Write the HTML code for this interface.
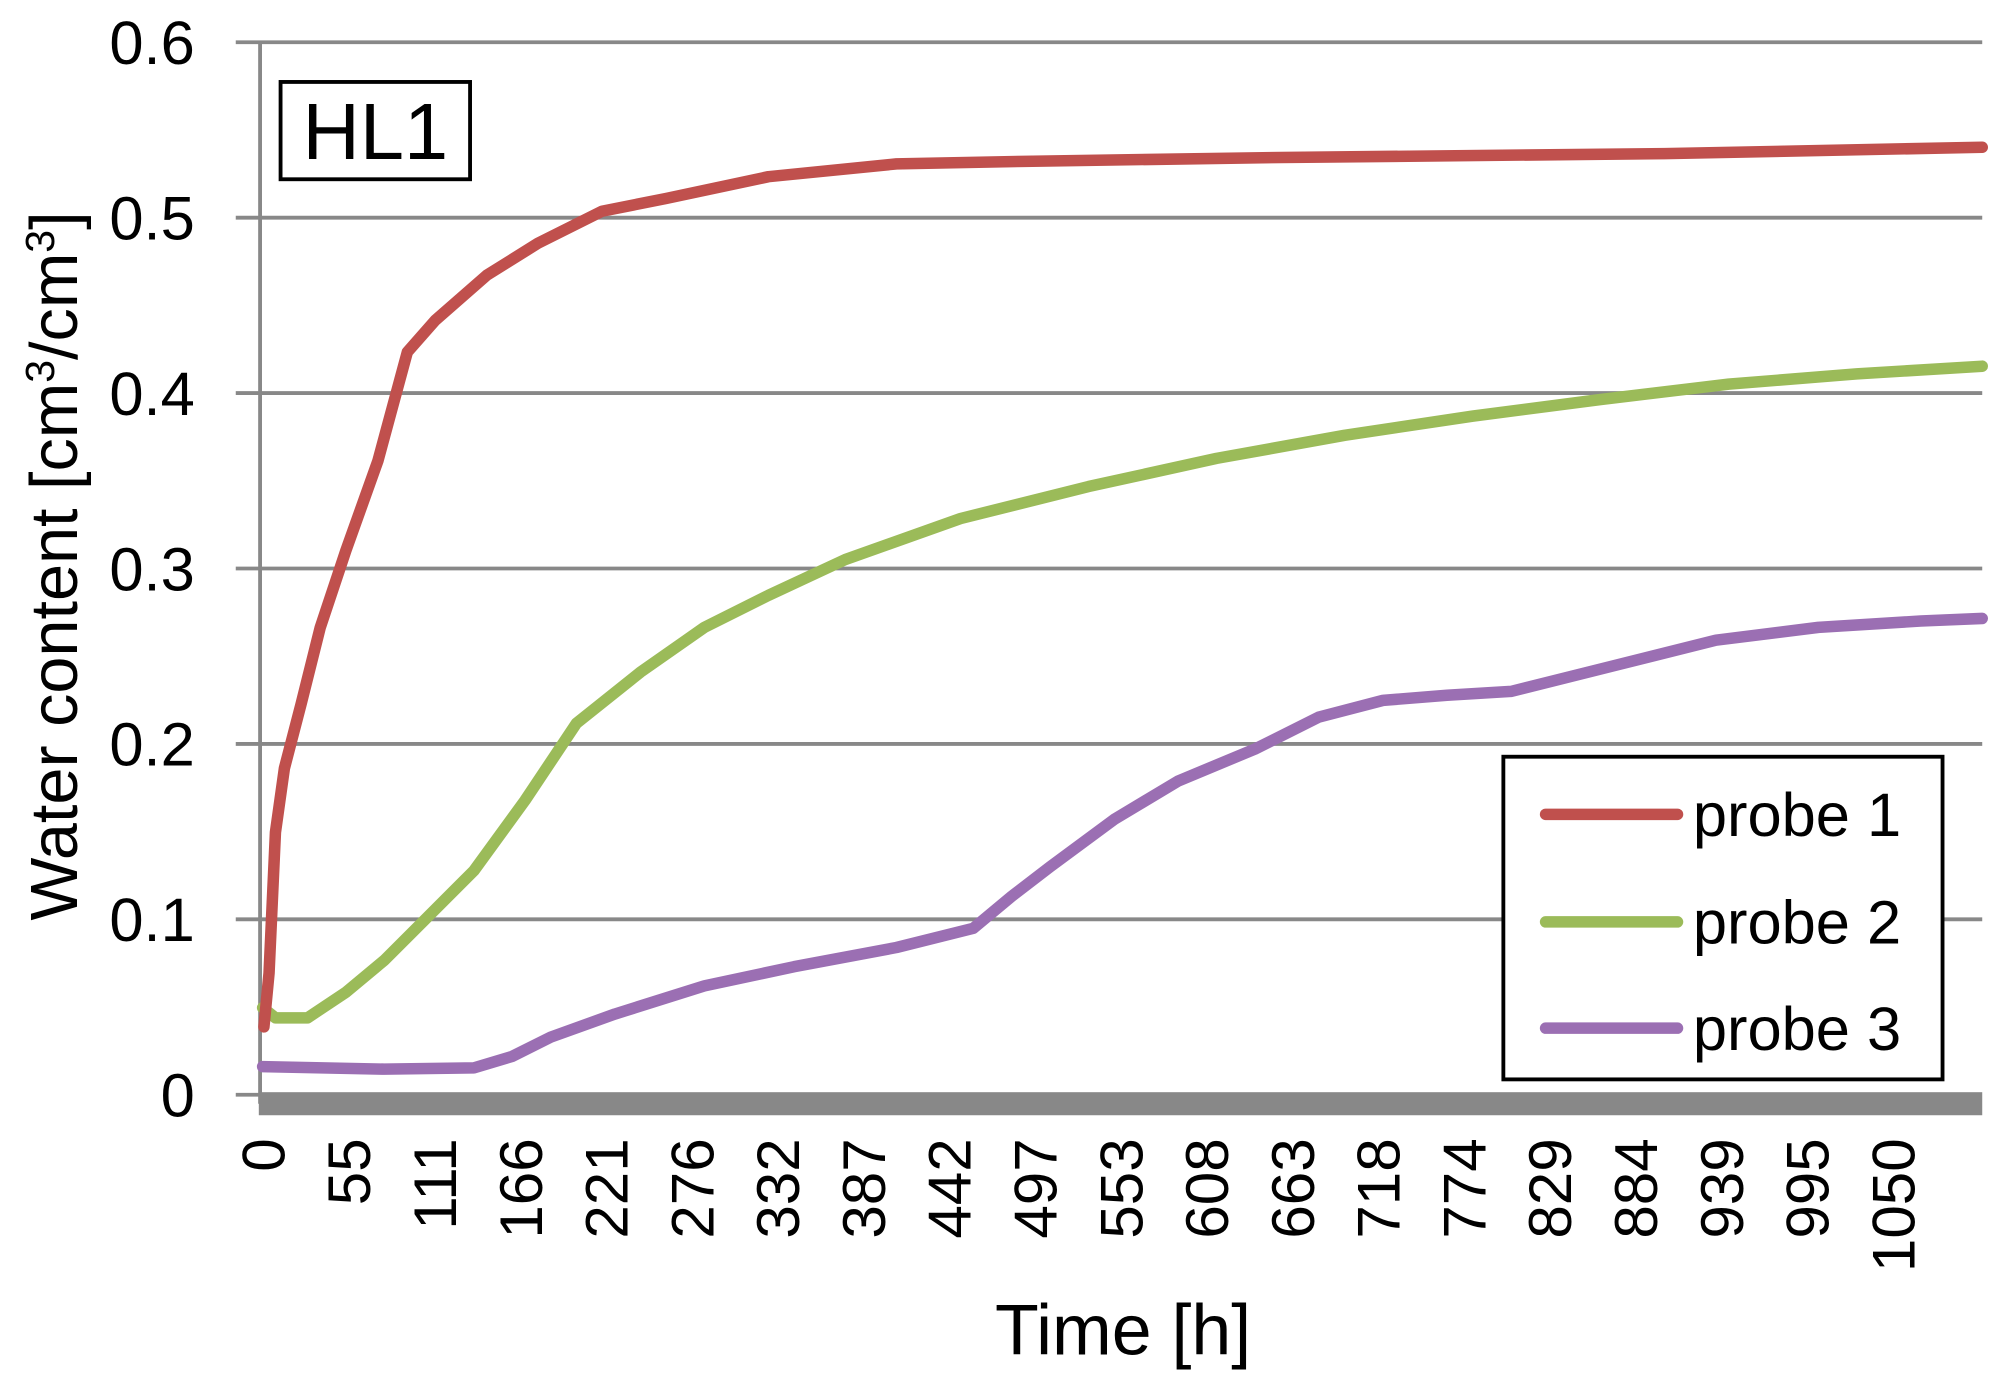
<!DOCTYPE html>
<html><head><meta charset="utf-8"><style>
html,body{margin:0;padding:0;background:#fff;}
svg{display:block;}
text{font-family:"Liberation Sans",sans-serif;fill:#000;}
</style></head><body>
<svg width="2008" height="1379" viewBox="0 0 1568 1077" xmlns="http://www.w3.org/2000/svg">
<rect width="1568" height="1077" fill="#fff"/>
<g stroke="#888" stroke-width="3">
<line x1="184" y1="33" x2="1548" y2="33"/>
<line x1="184" y1="170" x2="1548" y2="170"/>
<line x1="184" y1="307" x2="1548" y2="307"/>
<line x1="184" y1="444" x2="1548" y2="444"/>
<line x1="184" y1="581" x2="1548" y2="581"/>
<line x1="184" y1="718" x2="1548" y2="718"/>
<line x1="184" y1="855" x2="203" y2="855"/>
<line x1="203" y1="33" x2="203" y2="862"/>
</g>
<rect x="202" y="853" width="1346" height="18" fill="#888"/>
<g font-size="48" text-anchor="end">
<text x="152" y="50">0.6</text>
<text x="152" y="187">0.5</text>
<text x="152" y="324">0.4</text>
<text x="152" y="461">0.3</text>
<text x="152" y="598">0.2</text>
<text x="152" y="735">0.1</text>
<text x="152" y="872">0</text>
</g>
<g font-size="47" text-anchor="end">
<text transform="translate(222,889) rotate(-90)">0</text>
<text transform="translate(289,889) rotate(-90)">55</text>
<text transform="translate(356,889) rotate(-90)">111</text>
<text transform="translate(423,889) rotate(-90)">166</text>
<text transform="translate(490,889) rotate(-90)">221</text>
<text transform="translate(557,889) rotate(-90)">276</text>
<text transform="translate(624,889) rotate(-90)">332</text>
<text transform="translate(691,889) rotate(-90)">387</text>
<text transform="translate(758,889) rotate(-90)">442</text>
<text transform="translate(825,889) rotate(-90)">497</text>
<text transform="translate(892,889) rotate(-90)">553</text>
<text transform="translate(959,889) rotate(-90)">608</text>
<text transform="translate(1026,889) rotate(-90)">663</text>
<text transform="translate(1093,889) rotate(-90)">718</text>
<text transform="translate(1160,889) rotate(-90)">774</text>
<text transform="translate(1227,889) rotate(-90)">829</text>
<text transform="translate(1294,889) rotate(-90)">884</text>
<text transform="translate(1361,889) rotate(-90)">939</text>
<text transform="translate(1428,889) rotate(-90)">995</text>
<text transform="translate(1495,889) rotate(-90)">1050</text>
</g>
<text x="877" y="1058" font-size="56" text-anchor="middle">Time [h]</text>
<text transform="translate(60,442) rotate(-90)" font-size="52" text-anchor="middle">Water content [cm<tspan font-size="32" dy="-18">3</tspan><tspan dy="18">/cm</tspan><tspan font-size="32" dy="-18">3</tspan><tspan dy="18">]</tspan></text>
<g fill="none" stroke-width="9" stroke-linejoin="round" stroke-linecap="round">
<polyline stroke="#9b6fb3" points="205,833 300,835 370,834 400,825 430,810 480,792 550,770 620,755 700,740 760,725 790,700 820,677 870,640 920,610 980,585 1030,560 1080,547 1130,543 1180,540 1260,520 1340,500 1420,490 1500,485 1548,483"/>
<polyline stroke="#9bbb59" points="205,787 215,795 240,795 270,775 300,750 330,720 370,680 410,625 450,565 500,525 550,490 600,465 660,437 750,405 850,380 950,358 1050,340 1150,325 1250,312 1350,300 1450,292 1548,286"/>
<polyline stroke="#c0504d" points="206,802 210,760 215,650 222,600 235,550 250,490 270,430 295,360 318,275 340,250 380,215 420,190 470,165 520,155 600,138 700,128 800,126 1000,123 1300,120 1548,115"/>
</g>
<rect x="219" y="64" width="148" height="76" fill="#fff" stroke="#000" stroke-width="3"/>
<text x="293" y="124" font-size="62" text-anchor="middle">HL1</text>
<rect x="1174" y="591" width="343" height="252" fill="#fff" stroke="#000" stroke-width="3"/>
<g stroke-width="9" stroke-linecap="round">
<line x1="1207" y1="636" x2="1310" y2="636" stroke="#c0504d"/>
<line x1="1207" y1="720" x2="1310" y2="720" stroke="#9bbb59"/>
<line x1="1207" y1="803" x2="1310" y2="803" stroke="#9b6fb3"/>
</g>
<g font-size="48">
<text x="1322" y="653">probe 1</text>
<text x="1322" y="737">probe 2</text>
<text x="1322" y="820">probe 3</text>
</g>
</svg>
</body></html>
